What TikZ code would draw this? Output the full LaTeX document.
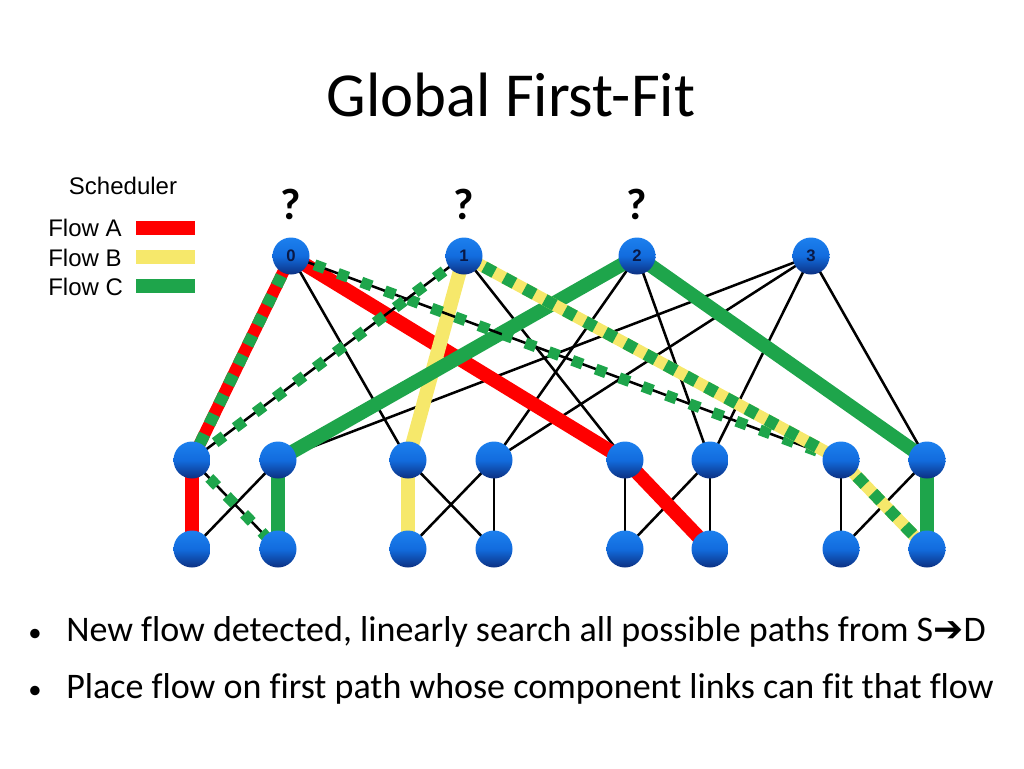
\documentclass[tikz,border=0pt]{standalone}
\usepackage{fontspec}
\setmainfont{Carlito}[Ligatures=NoCommon]
\newfontfamily\arialfont{Liberation Sans}
\newfontfamily\arrowfont{DejaVu Sans}
\usetikzlibrary{backgrounds}
\definecolor{flowred}{RGB}{255,0,0}
\definecolor{flowyellow}{RGB}{246,232,107}
\definecolor{flowgreen}{RGB}{30,165,75}
\definecolor{balltop}{RGB}{28,128,238}
\definecolor{ballmid}{RGB}{18,108,222}
\definecolor{ballbot}{RGB}{12,48,130}
\definecolor{labelnavy}{RGB}{10,25,70}
\tikzset{
  switch/.style={circle, inner sep=0pt, minimum size=27.75pt, top color=balltop,
    bottom color=ballbot, middle color=ballmid, text=labelnavy,
    font=\arialfont\bfseries\fontsize{12.5}{12.5}\selectfont},
  link/.style={draw=black, line width=1.9pt},
  linkC/.style={link, postaction={draw=flowgreen, line width=8.25pt, dash pattern=on 8.25pt off 10.5pt}},
  flowA/.style={draw=flowred, line width=10.5pt},
  flowB/.style={draw=flowyellow, line width=10.5pt},
  flowC/.style={draw=flowgreen, line width=10.5pt},
  flowAC/.style={draw=flowred, line width=9pt, postaction={draw=flowgreen, line width=9pt, dash pattern=on 8.25pt off 8.25pt}},
  flowBC/.style={draw=flowyellow, line width=9pt, postaction={draw=flowgreen, line width=9pt, dash pattern=on 8.6pt off 8.6pt}},
  legend/.style={inner sep=0pt, font=\arialfont\fontsize{18}{18}\selectfont},
  query/.style={inner sep=0pt, anchor=base, font=\bfseries\fontsize{33}{33}\selectfont},
  bullet/.style={inner sep=0pt, anchor=base west, font=\fontsize{27}{28}\selectfont}
}
\begin{document}
\begin{tikzpicture}[x=0.75pt, y=-0.75pt]
    \useasboundingbox (0,0) rectangle (1024,768);
    % title
    \node[inner sep=0pt, anchor=base, font=\fontsize{47}{50}\selectfont] (title) at (511,116) {Global First-Fit};
    % legend
    \node[legend, anchor=base] (sched) at (123,194) {Scheduler};
    \foreach \f/\y in {A/236,B/266,C/295}
      \node[legend, anchor=base west] (flow\f) at (48,\y) {Flow \f};
    \fill[flowred] (136,221) rectangle (195,235);
    \fill[flowyellow] (136,250) rectangle (195,264);
    \fill[flowgreen] (136,279) rectangle (195,293);
    % switches
    \foreach \n/\x in {0/291,1/464,2/637,3/811}
      \node[switch] (c\n) at (\x,256) {\n};
    \foreach \n/\x in {1/192,2/278,3/408,4/494,5/625,6/710,7/841,8/927} {
      \node[switch] (a\n) at (\x,460) {};
      \node[switch] (e\n) at (\x,549) {};
    }
    \foreach \n in {0,1,2}
      \node[query] (q\n) at ([yshift=13.5pt]c\n.north) {?};
    % links
    \begin{scope}[on background layer]
      \foreach \s/\t in {c0/a3,c1/a5,c2/a4,c2/a6,c3/a2,c3/a4,c3/a6,c3/a8,a2/e1,a3/e4,a4/e3,a4/e4,a5/e5,a6/e5,a6/e6,a7/e7,a8/e7}
        \draw[link] (\s.center) -- (\t.center);
      \foreach \s/\t in {c0/a5,a5/e6,a1/e1}
        \draw[flowA] (\s.center) -- (\t.center);
      \foreach \s/\t in {c1/a3,a3/e3}
        \draw[flowB] (\s.center) -- (\t.center);
      \foreach \s/\t in {c2/a2,c2/a8,a2/e2,a8/e8}
        \draw[flowC] (\s.center) -- (\t.center);
      \foreach \s/\t in {c0/a7,c1/a1,a1/e2}
        \draw[linkC] (\s.center) -- (\t.center);
      \draw[flowAC] (c0.center) -- (a1.center);
      \foreach \s/\t in {c1/a7,a7/e8}
        \draw[flowBC] (\s.center) -- (\t.center);
    \end{scope}
    % bullets
    \node[bullet, font=\fontsize{20}{20}\selectfont] (dot1) at (28,641) {•};
    \node[bullet] (line1) at (66,641) {New flow detected, linearly search all possible paths from S{\arrowfont ➔}D};
    \node[bullet, font=\fontsize{20}{20}\selectfont] (dot2) at (28,698) {•};
    \node[bullet] (line2) at (66,698) {Place flow on first path whose component links can fit that flow};
\end{tikzpicture}
\end{document}
